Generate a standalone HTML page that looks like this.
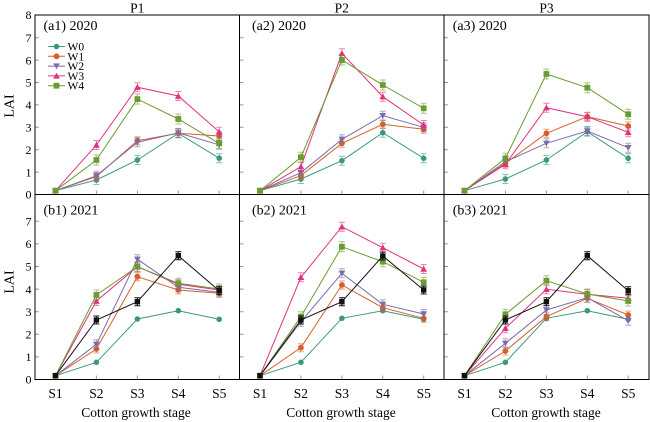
<!DOCTYPE html>
<html><head><meta charset="utf-8">
<style>
html,body{margin:0;padding:0;background:#fff}
svg{display:block}
svg text{font-family:"Liberation Serif","Times New Roman",serif;fill:#000}
.s0{fill:none;stroke:#3b9a7b;stroke-width:1;marker-start:url(#m0);marker-mid:url(#m0);marker-end:url(#m0)}
.s1{fill:none;stroke:#d4612a;stroke-width:1;marker-start:url(#m1);marker-mid:url(#m1);marker-end:url(#m1)}
.s2{fill:none;stroke:#7b6cae;stroke-width:1;marker-start:url(#m2);marker-mid:url(#m2);marker-end:url(#m2)}
.s3{fill:none;stroke:#e0327d;stroke-width:1;marker-start:url(#m3);marker-mid:url(#m3);marker-end:url(#m3)}
.s4{fill:none;stroke:#6b9c31;stroke-width:1;marker-start:url(#m4);marker-mid:url(#m4);marker-end:url(#m4)}
.sk{fill:none;stroke:#111;stroke-width:1;marker-start:url(#mk);marker-mid:url(#mk);marker-end:url(#mk)}
.e0{fill:none;stroke:none;marker-mid:url(#e0);marker-end:url(#e0)}
.e1{fill:none;stroke:none;marker-mid:url(#e1);marker-end:url(#e1)}
.e2{fill:none;stroke:none;marker-mid:url(#e2);marker-end:url(#e2)}
.e3{fill:none;stroke:none;marker-mid:url(#e3);marker-end:url(#e3)}
.e4{fill:none;stroke:none;marker-mid:url(#e4);marker-end:url(#e4)}
.ek{fill:none;stroke:none;marker-mid:url(#ek);marker-end:url(#ek)}
.tk{stroke:#999;stroke-width:1}
.yl{font-size:12px;text-anchor:end}
.xl{font-size:13.5px;text-anchor:middle}
.pl{font-size:14px}
.lg{font-size:11.5px}
</style></head>
<body>
<svg width="650" height="422" viewBox="0 0 650 422" xmlns="http://www.w3.org/2000/svg" font-family="Liberation Serif, Times New Roman, serif">
<defs>
<marker id="m0" viewBox="-5 -5 10 10" markerWidth="10" markerHeight="10" refX="0" refY="0" markerUnits="userSpaceOnUse" overflow="visible"><circle r="2.8" fill="#3b9a7b"/></marker>
<marker id="m1" viewBox="-5 -5 10 10" markerWidth="10" markerHeight="10" refX="0" refY="0" markerUnits="userSpaceOnUse" overflow="visible"><circle r="2.9" fill="#d4612a"/></marker>
<marker id="m2" viewBox="-5 -5 10 10" markerWidth="10" markerHeight="10" refX="0" refY="0" markerUnits="userSpaceOnUse" overflow="visible"><polygon points="-3.4,-2.7 3.4,-2.7 0,3.2" fill="#7b6cae"/></marker>
<marker id="m3" viewBox="-5 -5 10 10" markerWidth="10" markerHeight="10" refX="0" refY="0" markerUnits="userSpaceOnUse" overflow="visible"><polygon points="-3.4,2.7 3.4,2.7 0,-3.2" fill="#e0327d"/></marker>
<marker id="m4" viewBox="-5 -5 10 10" markerWidth="10" markerHeight="10" refX="0" refY="0" markerUnits="userSpaceOnUse" overflow="visible"><rect x="-2.9" y="-2.9" width="5.8" height="5.8" fill="#6b9c31"/></marker>
<marker id="mk" viewBox="-5 -5 10 10" markerWidth="10" markerHeight="10" refX="0" refY="0" markerUnits="userSpaceOnUse" overflow="visible"><rect x="-2.7" y="-2.7" width="5.4" height="5.4" fill="#111"/></marker>
<marker id="e0" viewBox="-5 -5 10 10" markerWidth="10" markerHeight="10" refX="0" refY="0" markerUnits="userSpaceOnUse" overflow="visible"><path d="M0,-4.5V4.5M-3,-4.5H3M-3,4.5H3" stroke="#3b9a7b" stroke-opacity="0.6" fill="none"/></marker>
<marker id="e1" viewBox="-5 -5 10 10" markerWidth="10" markerHeight="10" refX="0" refY="0" markerUnits="userSpaceOnUse" overflow="visible"><path d="M0,-4V4M-3,-4H3M-3,4H3" stroke="#d4612a" stroke-opacity="0.6" fill="none"/></marker>
<marker id="e2" viewBox="-5 -5 10 10" markerWidth="10" markerHeight="10" refX="0" refY="0" markerUnits="userSpaceOnUse" overflow="visible"><path d="M0,-4.5V4.5M-3,-4.5H3M-3,4.5H3" stroke="#7b6cae" stroke-opacity="0.6" fill="none"/></marker>
<marker id="e3" viewBox="-5 -5 10 10" markerWidth="10" markerHeight="10" refX="0" refY="0" markerUnits="userSpaceOnUse" overflow="visible"><path d="M0,-4.5V4.5M-3,-4.5H3M-3,4.5H3" stroke="#e0327d" stroke-opacity="0.6" fill="none"/></marker>
<marker id="e4" viewBox="-5 -5 10 10" markerWidth="10" markerHeight="10" refX="0" refY="0" markerUnits="userSpaceOnUse" overflow="visible"><path d="M0,-5V5M-3,-5H3M-3,5H3" stroke="#6b9c31" stroke-opacity="0.6" fill="none"/></marker>
<marker id="ek" viewBox="-5 -5 10 10" markerWidth="10" markerHeight="10" refX="0" refY="0" markerUnits="userSpaceOnUse" overflow="visible"><path d="M0,-4V4M-3,-4H3M-3,4H3" stroke="#111" fill="none"/></marker>
</defs>

<!-- ticks -->
<g class="tk">
<path d="M35,172.1h4M35,149.7h4M35,127.3h4M35,104.9h4M35,82.5h4M35,60.1h4M35,37.7h4"/>
<path d="M239.5,172.1h4M239.5,149.7h4M239.5,127.3h4M239.5,104.9h4M239.5,82.5h4M239.5,60.1h4M239.5,37.7h4"/>
<path d="M444,172.1h4M444,149.7h4M444,127.3h4M444,104.9h4M444,82.5h4M444,60.1h4M444,37.7h4"/>
<path d="M35,356.9h4M35,334.3h4M35,311.7h4M35,289.1h4M35,266.5h4M35,243.9h4M35,221.3h4"/>
<path d="M239.5,356.9h4M239.5,334.3h4M239.5,311.7h4M239.5,289.1h4M239.5,266.5h4M239.5,243.9h4M239.5,221.3h4"/>
<path d="M444,356.9h4M444,334.3h4M444,311.7h4M444,289.1h4M444,266.5h4M444,243.9h4M444,221.3h4"/>
<path d="M55.5,194.5v-4M96.4,194.5v-4M137.4,194.5v-4M178.3,194.5v-4M219.2,194.5v-4M260,194.5v-4M300.9,194.5v-4M341.9,194.5v-4M382.8,194.5v-4M423.7,194.5v-4M464.5,194.5v-4M505.4,194.5v-4M546.4,194.5v-4M587.3,194.5v-4M628.2,194.5v-4"/>
<path d="M55.5,379.5v-4M96.4,379.5v-4M137.4,379.5v-4M178.3,379.5v-4M219.2,379.5v-4M260,379.5v-4M300.9,379.5v-4M341.9,379.5v-4M382.8,379.5v-4M423.7,379.5v-4M464.5,379.5v-4M505.4,379.5v-4M546.4,379.5v-4M587.3,379.5v-4M628.2,379.5v-4"/>
</g>

<!-- a1 -->
<polyline class="e0" points="55.5,190.7 96.4,180.0 137.4,160.0 178.3,133.3 219.2,158.2"/>
<polyline class="s0" points="55.5,190.7 96.4,180.0 137.4,160.0 178.3,133.3 219.2,158.2"/>
<polyline class="e1" points="55.5,190.7 96.4,176.6 137.4,140.7 178.3,133.3 219.2,136.0"/>
<polyline class="s1" points="55.5,190.7 96.4,176.6 137.4,140.7 178.3,133.3 219.2,136.0"/>
<polyline class="e2" points="55.5,190.7 96.4,175.7 137.4,142.3 178.3,132.9 219.2,144.8"/>
<polyline class="s2" points="55.5,190.7 96.4,175.7 137.4,142.3 178.3,132.9 219.2,144.8"/>
<polyline class="e3" points="55.5,190.7 96.4,145.0 137.4,87.2 178.3,96.0 219.2,131.8"/>
<polyline class="s3" points="55.5,190.7 96.4,145.0 137.4,87.2 178.3,96.0 219.2,131.8"/>
<polyline class="e4" points="55.5,190.7 96.4,160.0 137.4,99.1 178.3,119.0 219.2,143.4"/>
<polyline class="s4" points="55.5,190.7 96.4,160.0 137.4,99.1 178.3,119.0 219.2,143.4"/>

<!-- a2 -->
<polyline class="e0" points="260,190.7 300.9,179.0 341.9,160.7 382.8,132.7 423.7,158.3"/>
<polyline class="s0" points="260,190.7 300.9,179.0 341.9,160.7 382.8,132.7 423.7,158.3"/>
<polyline class="e1" points="260,190.7 300.9,175.7 341.9,143.3 382.8,124.3 423.7,129.3"/>
<polyline class="s1" points="260,190.7 300.9,175.7 341.9,143.3 382.8,124.3 423.7,129.3"/>
<polyline class="e2" points="260,190.7 300.9,172.7 341.9,139.3 382.8,115.7 423.7,127.3"/>
<polyline class="s2" points="260,190.7 300.9,172.7 341.9,139.3 382.8,115.7 423.7,127.3"/>
<polyline class="e3" points="260,190.7 300.9,166.7 341.9,53.3 382.8,96.7 423.7,125.0"/>
<polyline class="s3" points="260,190.7 300.9,166.7 341.9,53.3 382.8,96.7 423.7,125.0"/>
<polyline class="e4" points="260,190.7 300.9,157.3 341.9,60.0 382.8,85.0 423.7,108.3"/>
<polyline class="s4" points="260,190.7 300.9,157.3 341.9,60.0 382.8,85.0 423.7,108.3"/>

<!-- a3 -->
<polyline class="e0" points="464.5,190.7 505.4,179.0 546.4,160.0 587.3,131.7 628.2,158.3"/>
<polyline class="s0" points="464.5,190.7 505.4,179.0 546.4,160.0 587.3,131.7 628.2,158.3"/>
<polyline class="e1" points="464.5,190.7 505.4,163.3 546.4,133.3 587.3,116.7 628.2,126.0"/>
<polyline class="s1" points="464.5,190.7 505.4,163.3 546.4,133.3 587.3,116.7 628.2,126.0"/>
<polyline class="e2" points="464.5,190.7 505.4,161.7 546.4,143.3 587.3,131.0 628.2,147.7"/>
<polyline class="s2" points="464.5,190.7 505.4,161.7 546.4,143.3 587.3,131.0 628.2,147.7"/>
<polyline class="e3" points="464.5,190.7 505.4,164.3 546.4,107.7 587.3,116.7 628.2,132.3"/>
<polyline class="s3" points="464.5,190.7 505.4,164.3 546.4,107.7 587.3,116.7 628.2,132.3"/>
<polyline class="e4" points="464.5,190.7 505.4,158.3 546.4,74.0 587.3,87.7 628.2,114.3"/>
<polyline class="s4" points="464.5,190.7 505.4,158.3 546.4,74.0 587.3,87.7 628.2,114.3"/>

<!-- b1 -->
<polyline class="s0" points="55.5,375.7 96.4,362.3 137.4,319.0 178.3,310.7 219.2,319.3"/>
<polyline class="e1" points="55.5,375.7 96.4,349.0 137.4,276.7 178.3,290.0 219.2,293.3"/>
<polyline class="s1" points="55.5,375.7 96.4,349.0 137.4,276.7 178.3,290.0 219.2,293.3"/>
<polyline class="e2" points="55.5,375.7 96.4,344.3 137.4,259.3 178.3,287.3 219.2,292.3"/>
<polyline class="s2" points="55.5,375.7 96.4,344.3 137.4,259.3 178.3,287.3 219.2,292.3"/>
<polyline class="e3" points="55.5,375.7 96.4,301.0 137.4,266.7 178.3,284.3 219.2,290.0"/>
<polyline class="s3" points="55.5,375.7 96.4,301.0 137.4,266.7 178.3,284.3 219.2,290.0"/>
<polyline class="e4" points="55.5,375.7 96.4,295.0 137.4,266.7 178.3,283.3 219.2,289.0"/>
<polyline class="s4" points="55.5,375.7 96.4,295.0 137.4,266.7 178.3,283.3 219.2,289.0"/>
<polyline class="ek" points="55.5,375.7 96.4,320.0 137.4,301.7 178.3,255.7 219.2,290.7"/>
<polyline class="sk" points="55.5,375.7 96.4,320.0 137.4,301.7 178.3,255.7 219.2,290.7"/>

<!-- b2 -->
<polyline class="s0" points="260,375.7 300.9,362.3 341.9,318.3 382.8,310.7 423.7,319.3"/>
<polyline class="e1" points="260,375.7 300.9,347.7 341.9,285.0 382.8,307.7 423.7,318.3"/>
<polyline class="s1" points="260,375.7 300.9,347.7 341.9,285.0 382.8,307.7 423.7,318.3"/>
<polyline class="e2" points="260,375.7 300.9,321.7 341.9,273.3 382.8,304.3 423.7,314.0"/>
<polyline class="s2" points="260,375.7 300.9,321.7 341.9,273.3 382.8,304.3 423.7,314.0"/>
<polyline class="e3" points="260,375.7 300.9,277.3 341.9,226.7 382.8,247.7 423.7,269.0"/>
<polyline class="s3" points="260,375.7 300.9,277.3 341.9,226.7 382.8,247.7 423.7,269.0"/>
<polyline class="e4" points="260,375.7 300.9,316.7 341.9,246.7 382.8,261.7 423.7,282.3"/>
<polyline class="s4" points="260,375.7 300.9,316.7 341.9,246.7 382.8,261.7 423.7,282.3"/>
<polyline class="ek" points="260,375.7 300.9,320.0 341.9,301.7 382.8,256.0 423.7,290.0"/>
<polyline class="sk" points="260,375.7 300.9,320.0 341.9,301.7 382.8,256.0 423.7,290.0"/>

<!-- b3 -->
<polyline class="s0" points="464.5,375.7 505.4,362.3 546.4,318.3 587.3,310.7 628.2,319.3"/>
<polyline class="e1" points="464.5,375.7 505.4,351.0 546.4,316.7 587.3,298.3 628.2,315.0"/>
<polyline class="s1" points="464.5,375.7 505.4,351.0 546.4,316.7 587.3,298.3 628.2,315.0"/>
<polyline class="e2" points="464.5,375.7 505.4,343.3 546.4,310.0 587.3,297.7 628.2,320.7"/>
<polyline class="s2" points="464.5,375.7 505.4,343.3 546.4,310.0 587.3,297.7 628.2,320.7"/>
<polyline class="e3" points="464.5,375.7 505.4,328.3 546.4,289.3 587.3,294.3 628.2,298.3"/>
<polyline class="s3" points="464.5,375.7 505.4,328.3 546.4,289.3 587.3,294.3 628.2,298.3"/>
<polyline class="e4" points="464.5,375.7 505.4,314.3 546.4,280.7 587.3,294.0 628.2,301.0"/>
<polyline class="s4" points="464.5,375.7 505.4,314.3 546.4,280.7 587.3,294.0 628.2,301.0"/>
<polyline class="ek" points="464.5,375.7 505.4,320.0 546.4,301.7 587.3,255.7 628.2,290.7"/>
<polyline class="sk" points="464.5,375.7 505.4,320.0 546.4,301.7 587.3,255.7 628.2,290.7"/>

<!-- frame -->
<g fill="none" stroke="#000" stroke-width="1">
<rect x="35" y="15" width="614" height="364.5"/>
<line x1="239.5" y1="15" x2="239.5" y2="379.5"/>
<line x1="444" y1="15" x2="444" y2="379.5"/>
<line x1="35" y1="194.5" x2="649" y2="194.5"/>
</g>

<!-- legend -->
<polyline class="s0" points="48,46.5 56.5,46.5 65,46.5" style="marker-start:none;marker-end:none"/>
<polyline class="s1" points="48,56.3 56.5,56.3 65,56.3" style="marker-start:none;marker-end:none"/>
<polyline class="s2" points="48,66.1 56.5,66.1 65,66.1" style="marker-start:none;marker-end:none"/>
<polyline class="s3" points="48,75.9 56.5,75.9 65,75.9" style="marker-start:none;marker-end:none"/>
<polyline class="s4" points="48,85.7 56.5,85.7 65,85.7" style="marker-start:none;marker-end:none"/>
<text class="lg" x="67.5" y="50.5" font-family="Liberation Serif, serif">W0</text>
<text class="lg" x="67.5" y="60.3" font-family="Liberation Serif, serif">W1</text>
<text class="lg" x="67.5" y="70.1" font-family="Liberation Serif, serif">W2</text>
<text class="lg" x="67.5" y="79.9" font-family="Liberation Serif, serif">W3</text>
<text class="lg" x="67.5" y="89.7" font-family="Liberation Serif, serif">W4</text>

<!-- panel labels -->
<text class="pl" x="43.5" y="30">(a1) 2020</text>
<text class="pl" x="252" y="30">(a2) 2020</text>
<text class="pl" x="452.7" y="30">(a3) 2020</text>
<text class="pl" x="43.5" y="214.5">(b1) 2021</text>
<text class="pl" x="252" y="214.5">(b2) 2021</text>
<text class="pl" x="452.7" y="214.5">(b3) 2021</text>

<!-- titles -->
<text x="137.3" y="12.5" font-size="13.5" text-anchor="middle">P1</text>
<text x="341.8" y="12.5" font-size="13.5" text-anchor="middle">P2</text>
<text x="546.5" y="12.5" font-size="13.5" text-anchor="middle">P3</text>

<!-- y labels -->
<text class="yl" x="31.5" y="19.2">8</text>
<text class="yl" x="31.5" y="41.9">7</text>
<text class="yl" x="31.5" y="64.3">6</text>
<text class="yl" x="31.5" y="86.7">5</text>
<text class="yl" x="31.5" y="109.1">4</text>
<text class="yl" x="31.5" y="131.5">3</text>
<text class="yl" x="31.5" y="153.9">2</text>
<text class="yl" x="31.5" y="176.3">1</text>
<text class="yl" x="31.5" y="198.7">0</text>
<text class="yl" x="31.5" y="225.5">7</text>
<text class="yl" x="31.5" y="248.1">6</text>
<text class="yl" x="31.5" y="270.7">5</text>
<text class="yl" x="31.5" y="293.3">4</text>
<text class="yl" x="31.5" y="315.9">3</text>
<text class="yl" x="31.5" y="338.5">2</text>
<text class="yl" x="31.5" y="361.1">1</text>
<text class="yl" x="31.5" y="383.7">0</text>

<text x="13.5" y="106" font-size="14" text-anchor="middle" transform="rotate(-90 13.5 106)">LAI</text>
<text x="13.5" y="282" font-size="14" text-anchor="middle" transform="rotate(-90 13.5 282)">LAI</text>

<!-- x labels -->
<text class="xl" x="55.5" y="398">S1</text>
<text class="xl" x="96.4" y="398">S2</text>
<text class="xl" x="137.4" y="398">S3</text>
<text class="xl" x="178.3" y="398">S4</text>
<text class="xl" x="219.2" y="398">S5</text>
<text class="xl" x="260" y="398">S1</text>
<text class="xl" x="300.9" y="398">S2</text>
<text class="xl" x="341.9" y="398">S3</text>
<text class="xl" x="382.8" y="398">S4</text>
<text class="xl" x="423.7" y="398">S5</text>
<text class="xl" x="464.5" y="398">S1</text>
<text class="xl" x="505.4" y="398">S2</text>
<text class="xl" x="546.4" y="398">S3</text>
<text class="xl" x="587.3" y="398">S4</text>
<text class="xl" x="628.2" y="398">S5</text>

<text class="xl" x="136" y="417">Cotton growth stage</text>
<text class="xl" x="341" y="417">Cotton growth stage</text>
<text class="xl" x="546" y="417">Cotton growth stage</text>
</svg>
</body></html>
